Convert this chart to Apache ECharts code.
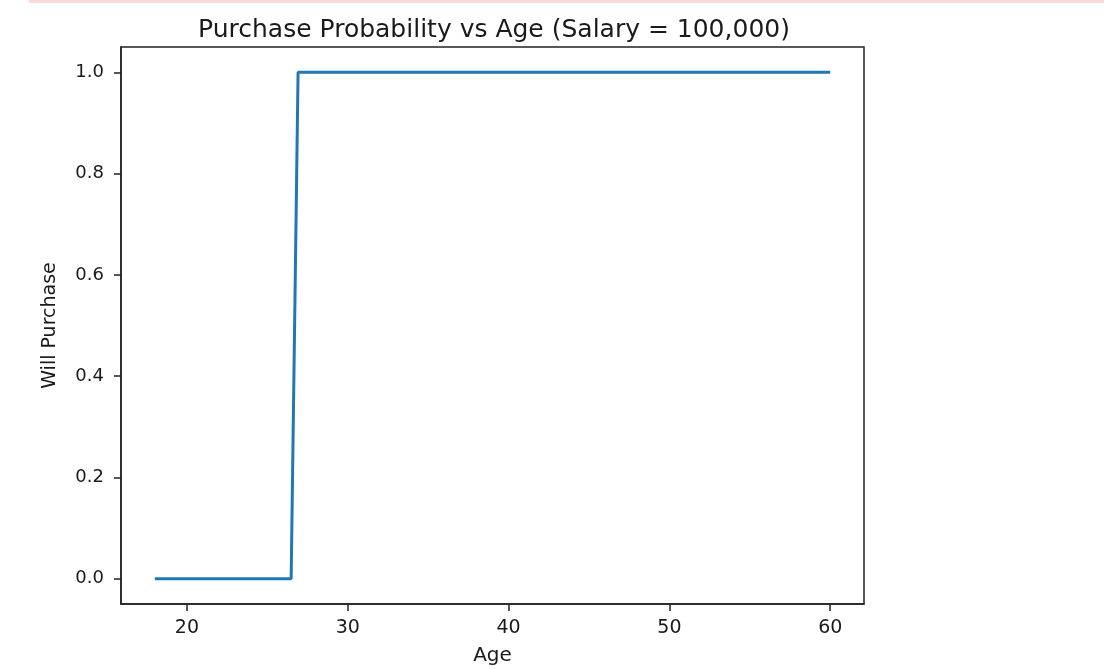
<!DOCTYPE html>
<html>
<head>
<meta charset="utf-8">
<script src="https://cdn.jsdelivr.net/npm/echarts@6/dist/echarts.min.js"></script>
<style>
  html, body { margin: 0; padding: 0; background: #fff; }
  #main { width: 1104px; height: 669px; }
</style>
</head>
<body>
<div id="main"></div>
<script>
// step curve: 0 up to ~26.5, 1 from ~26.9 on
var ages = [18, 26.48, 26.91, 60];
var willPurchase = [0, 0, 1, 1];
var xTicks = [20, 30, 40, 50, 60];
var yTicks = [0, 0.2, 0.4, 0.6, 0.8, 1.0];

var chart = echarts.init(document.getElementById('main'));
var font = 'DejaVu Sans';

var points = [];
for (var i = 0; i < ages.length; i++) points.push([ages[i], willPurchase[i]]);

chart.setOption({
    animation: false,
    backgroundColor: '#fff',
    title: {
        text: 'Purchase Probability vs Age (Salary = 100,000)',
        left: 489, top: 13, textAlign: 'center',
        textStyle: { fontFamily: font, fontSize: 25, fontWeight: 'normal', color: '#1a1a1a' }
    },
    graphic: [{
        type: 'rect',
        shape: { x: 29, y: 0, width: 1075, height: 3 },
        style: { fill: '#fdd9d9' }
    }],
    grid: {
        left: 121, right: 240, top: 47, bottom: 65,
        outerBoundsMode: 'none', containLabel: false,
        show: true, borderColor: '#222', borderWidth: 1.5
    },
    xAxis: {
        type: 'value', min: 15.9, max: 62.1,
        name: 'Age', nameLocation: 'middle', nameGap: 42,
        nameTextStyle: { fontFamily: font, fontSize: 20, color: '#1a1a1a' },
        axisLine: { show: true, onZero: false, lineStyle: { color: '#222', width: 1.5 } },
        axisTick: { show: true, length: 7, customValues: xTicks, lineStyle: { color: '#222', width: 1.5 } },
        axisLabel: {
            customValues: xTicks, margin: 15,
            fontFamily: font, fontSize: 19, color: '#1a1a1a'
        },
        splitLine: { show: false }
    },
    yAxis: {
        type: 'value', min: -0.05, max: 1.05,
        name: 'Will Purchase', nameLocation: 'middle', nameGap: 61,
        nameTextStyle: { fontFamily: font, fontSize: 19, color: '#1a1a1a' },
        axisLine: { show: true, onZero: false, lineStyle: { color: '#222', width: 1.5 } },
        axisTick: { show: true, length: 7, customValues: yTicks, lineStyle: { color: '#222', width: 1.5 } },
        axisLabel: {
            customValues: yTicks, margin: 17,
            fontFamily: font, fontSize: 18, color: '#1a1a1a',
            formatter: function (v) { return v.toFixed(1); }
        },
        splitLine: { show: false }
    },
    series: [{
        type: 'line',
        data: points,
        showSymbol: false,
        lineStyle: { color: '#1f77b4', width: 3 },
        itemStyle: { color: '#1f77b4' }
    }]
});
</script>
</body>
</html>
